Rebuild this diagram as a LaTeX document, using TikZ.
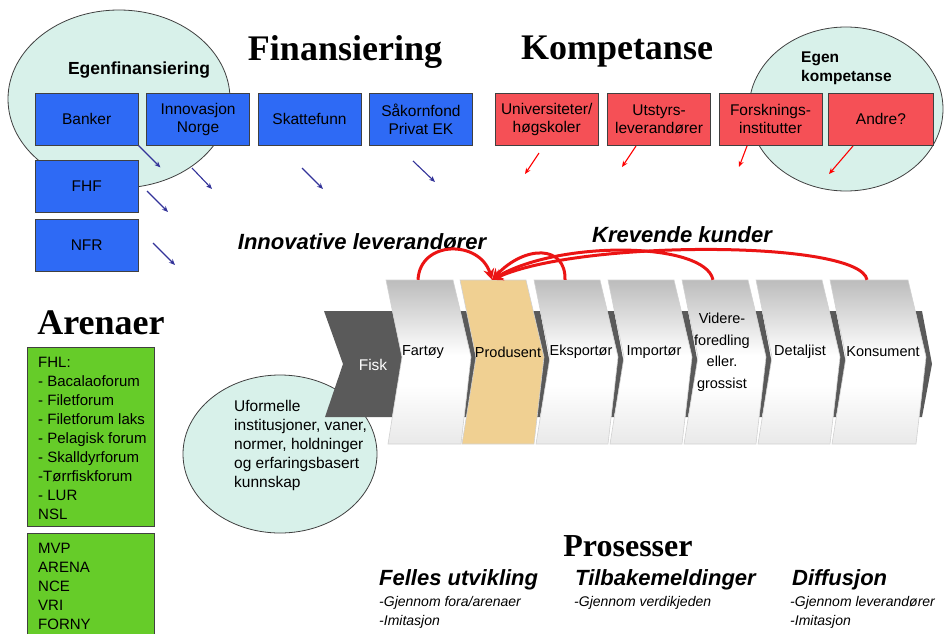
\documentclass[tikz,border=0pt]{standalone}
\usepackage{fontspec}
\setmainfont{Liberation Sans}
\newfontfamily\headfont{Liberation Serif}
\usepackage{tikz}
\usetikzlibrary{arrows.meta}
\usetikzlibrary{positioning}

\definecolor{finblue}{RGB}{46,106,245}
\definecolor{kompred}{RGB}{245,80,86}
\definecolor{arenagreen}{RGB}{102,204,41}
\definecolor{ovalfill}{RGB}{216,241,234}
\definecolor{prodtan}{RGB}{240,208,146}
\definecolor{fiskgray}{RGB}{90,90,90}
\definecolor{pilblue}{RGB}{51,51,153}
\definecolor{buered}{RGB}{235,20,20}

\newcommand{\boxfont}{\fontsize{15.5}{18}\selectfont}
\newcommand{\listfont}{\fontsize{15}{19}\selectfont}
\newcommand{\chevfont}{\fontsize{14.5}{21.5}\selectfont}
\newcommand{\handfont}{\fontsize{22}{26}\selectfont\bfseries\itshape}
\newcommand{\notefont}{\fontsize{14}{19}\selectfont\itshape}
% chevron outline: left x, top width
\newcommand{\chevpath}[2]{(#1,280) -- ++(#2,0) -- ++(18,77) -- ++(-10,87) -- ++(-#2-6,0) -- ++(14,-87) -- cycle}

\begin{document}
\begin{tikzpicture}[x=1pt, y=-1pt,
  finbox/.style={draw=black!75, fill=finblue, minimum width=103pt, minimum height=52pt, inner sep=2pt, align=center, font=\boxfont},
  kompbox/.style={finbox, fill=kompred},
  arenabox/.style={draw=black!75, fill=arenagreen, minimum width=127pt},
  arenatext/.style={inner sep=0pt, align=left, font=\listfont},
  oval/.style={draw=black!75, fill=ovalfill, line width=0.8pt},
  eget/.style={inner sep=0pt, align=left, font=\bfseries\fontsize{15.5}{19}\selectfont},
  title/.style={font=\headfont\bfseries\fontsize{36}{40}\selectfont},
  hand/.style={inner sep=0pt, font=\handfont},
  note/.style={inner sep=0pt, anchor=west, font=\notefont},
  finarrow/.style={pilblue, line width=1.1pt, -{Stealth[length=6pt,width=5pt]}},
  komparrow/.style={finarrow, red},
  kunde/.style={buered, line width=3pt, -{Stealth[length=11pt,width=11pt]}},
  chevline/.style={draw=black!18, line width=0.6pt},
  chevtext/.style={font=\chevfont, minimum height=144pt, inner sep=0pt, align=center}]
\useasboundingbox (0,0) rectangle (945,634);
\clip (0,0) rectangle (945,634);

% Finansiering
\draw[oval] (119,99) ellipse [x radius=111, y radius=89];
\node[eget, font=\bfseries\fontsize{17.5}{20}\selectfont] (egenfin) at (139,70) {Egenfinansiering};
\node[title] (finansiering) at (345,52) {Finansiering};
\node[finbox, anchor=north west] (banker) at (35,93) {Banker};
\node[finbox, right=8pt of banker] (innovasjon) {Innovasjon\\Norge};
\node[finbox, right=8pt of innovasjon] (skattefunn) {Skattefunn};
\node[finbox, right=8pt of skattefunn] (saakorn) {Såkornfond\\Privat EK};
\node[finbox, anchor=north west] (fhf) at (35,160) {FHF};
\node[finbox, below=7pt of fhf] (nfr) {NFR};
\draw[finarrow] (banker.south east) -- ++(22,22);
\draw[finarrow] (192,168) -- ++(20,21);
\draw[finarrow] (302,168) -- ++(21,21);
\draw[finarrow] (413,161) -- ++(22,21);
\draw[finarrow] (147,191) -- ++(21,21);
\draw[finarrow] (153,243) -- ++(22,22);

% Kompetanse
\draw[oval] (846,109) ellipse [x radius=97, y radius=82];
\node[eget, anchor=west] (egenkomp) at (801,68) {Egen\\kompetanse};
\node[title] (kompetanse) at (617,52) {Kompetanse};
\node[kompbox, anchor=north west] (univ) at (495,93) {Universiteter/\\høgskoler};
\node[kompbox, right=9pt of univ] (utstyr) {Utstyrs-\\leverandører};
\node[kompbox, right=8pt of utstyr] (forskning) {Forsknings-\\institutter};
\node[kompbox, right=6pt of forskning, minimum width=105pt] (andre) {Andre?};
\draw[komparrow] (539,153) -- ++(-14,21);
\draw[komparrow] (636,146) -- ++(-14,21);
\draw[komparrow] (747,146) -- ++(-8,21);
\draw[komparrow] (853,146) -- ++(-24,28);

% Arenaer
\node[title] (arenaer) at (101,323) {Arenaer};
\node[arenabox, anchor=north west, minimum height=179pt] (fhlboks) at (27,347) {};
\node[arenatext, anchor=west] (fhl) at (38,438) {FHL:\\- Bacalaoforum\\- Filetforum\\- Filetforum laks\\- Pelagisk forum\\- Skalldyrforum\\-Tørrfiskforum\\- LUR\\NSL};
\node[arenabox, below=7pt of fhlboks, minimum height=110pt] (mvpboks) {};
\node[arenatext, anchor=west] (mvp) at (38,586) {MVP\\ARENA\\NCE\\VRI\\FORNY};

% verdikjeden
\draw[oval] (280,454) ellipse [x radius=97, y radius=79];
\node[arenatext, anchor=west, font=\fontsize{15.5}{19}\selectfont] (uformelle) at (234,445) {Uformelle\\institusjoner, vaner,\\normer, holdninger\\og erfaringsbasert\\kunnskap};
\fill[fiskgray] (324,311) -- (400,311) -- (412,364) -- (400,417) -- (325,417) -- (343,364) -- cycle;
\foreach \x/\w in {386/67, 460/66, 534/66, 608/66, 682/66, 756/66, 830/78}
  \fill[fiskgray] (\x+10,311) -- ++(\w+4,0) -- ++(10,53) -- ++(-10,53) -- ++(-\w-4,0) -- ++(12,-53) -- cycle;
\foreach \x/\w in {386/67, 534/66, 608/66, 682/66, 756/66, 830/78}{
  \begin{scope}
    \clip \chevpath{\x}{\w};
    \fill[white] (\x-5,275) rectangle (\x+\w+30,450);
    \shade[top color=black!27, bottom color=white] (\x-5,278) rectangle (\x+\w+30,355);
    \shade[top color=white, bottom color=black!9] (\x-5,385) rectangle (\x+\w+30,446);
  \end{scope}
  \draw[chevline] \chevpath{\x}{\w};
}
\path[fill=prodtan, chevline] \chevpath{460}{66};
\node[font=\fontsize{15.5}{18}\selectfont, text=white] (fisk) at (373,365) {Fisk};
\node[chevtext] (fartoy) at (423,352) {Fartøy};
\node[chevtext] (produsent) at (508,352) {Produsent};
\node[chevtext] (eksport) at (581,352) {Eksportør};
\node[chevtext] (import) at (654,352) {Importør};
\node[chevtext] (videre) at (722,352) {Videre-\\foredling\\eller.\\grossist};
\node[chevtext] (detaljist) at (800,352) {Detaljist};
\node[chevtext] (konsument) at (883,352) {Konsument};

\node[hand] (innovative) at (362,242) {Innovative leverandører};
\node[hand] (krevende) at (682,235) {Krevende kunder};
\draw[kunde] ([xshift=-5pt]fartoy.north) .. controls +(2,-40) and +(-12,-40) .. ([xshift=-16pt]produsent.north);
\draw[kunde] ([xshift=-16pt]eksport.north) .. controls +(1,-35) and +(33,-35) .. ([xshift=-16pt]produsent.north);
\draw[kunde] ([xshift=-9pt]videre.north) .. controls +(-8,-38) and +(68,-40) .. ([xshift=-16pt]produsent.north);
\draw[kunde] ([xshift=-16pt]konsument.north) .. controls +(-7,-40) and +(88,-40) .. ([xshift=-16pt]produsent.north);

% Prosesser
\node[title, font=\headfont\bfseries\fontsize{32}{36}\selectfont] (prosesser) at (628,546) {Prosesser};
\node[hand, anchor=west] (felles) at (379,580) {Felles utvikling};
\node[hand, anchor=west] (tilbake) at (575,580) {Tilbakemeldinger};
\node[hand, anchor=west] (diffusjon) at (792,580) {Diffusjon};
\node[note] (fora) at (379,603) {-Gjennom fora/arenaer};
\node[note] (imit1) at (379,622) {-Imitasjon};
\node[note] (verdi) at (574,603) {-Gjennom verdikjeden};
\node[note] (lev) at (790,603) {-Gjennom leverandører};
\node[note] (imit2) at (790,622) {-Imitasjon};
\end{tikzpicture}
\end{document}
